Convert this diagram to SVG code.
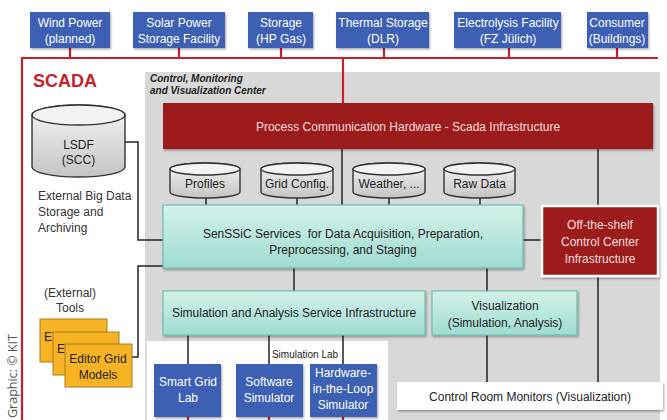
<svg xmlns="http://www.w3.org/2000/svg" width="667" height="420" viewBox="0 0 667 420">
<defs>
<linearGradient id="teal" x1="0" y1="0" x2="0" y2="1"><stop offset="0" stop-color="#d3f1ea"/><stop offset="1" stop-color="#9edbd0"/></linearGradient>
<linearGradient id="cyl" x1="0" y1="0" x2="0" y2="1"><stop offset="0" stop-color="#f4f4f4"/><stop offset="1" stop-color="#c4c4c4"/></linearGradient>
<filter id="sh" x="-10%" y="-10%" width="130%" height="140%"><feDropShadow dx="1" dy="1.5" stdDeviation="1.2" flood-color="#000" flood-opacity="0.35"/></filter>
<style>
text{font-family:"Liberation Sans",Arial,sans-serif;font-size:12px;}
.blue rect{fill:#3d5fb4;filter:url(#sh);}
.blue text{fill:#ffffff;text-anchor:middle;}
.teal rect{fill:url(#teal);stroke:#6cbfb0;stroke-width:1.2;filter:url(#sh);}
.teal text,.cyln text{fill:#222;text-anchor:middle;}
.dred rect{fill:#9c1b1f;filter:url(#sh);}
.dred text{fill:#f6dede;text-anchor:middle;}
.cyln path{fill:url(#cyl);stroke:#333;stroke-width:1.4;}
.cyln ellipse{fill:#f2f2f2;stroke:#333;stroke-width:1.4;}
.org rect{fill:#f6b324;stroke:#a77c1c;stroke-width:1;}
.org text{fill:#222;text-anchor:middle;}
.red{stroke:#c8202a;stroke-width:2.2;fill:none;}
.blk{stroke:#222;stroke-width:1.5;fill:none;}
.plain{fill:#333;}
</style>
</defs>

<!-- background panels -->
<rect x="145" y="72" width="515" height="348" fill="#d8d8d8"/>
<rect x="147" y="341" width="241" height="79" fill="#ffffff"/>

<g id="connectors">
  <path class="red" d="M22 420 V58 H658"/>
  <path class="red" d="M70 48 V58 M179 48 V58 M281 48 V58 M384 48 V58 M509 48 V58 M617 48 V58"/>
  <path class="red" d="M343 58 V104"/>
  <path class="red" d="M188 417 V420 M269 417 V420 M343 417 V420"/>
  <path class="blk" d="M342 149 V205"/>
  <path class="blk" d="M598 149 V206"/>
  <path class="blk" d="M598 276 V382"/>
  <path class="blk" d="M206 198 V205 M297 198 V205 M389 198 V205 M480 198 V205"/>
  <path class="blk" d="M125 142 H138 V240 H163"/>
  <path class="blk" d="M132 357 H138 V266 H163"/>
  <path class="blk" d="M523 240 H542"/>
  <path class="blk" d="M294 268 V291"/>
  <path class="blk" d="M487 268 V291"/>
  <path class="blk" d="M487 335 V382"/>
  <path class="blk" d="M188 335 V364 M269 335 V364 M343 335 V364"/>
</g>

<g id="wind" class="blue"><rect x="30" y="12" width="80" height="36"/><text x="70" y="27">Wind Power</text><text x="70" y="43">(planned)</text></g>
<g id="solar" class="blue"><rect x="133" y="12" width="92" height="36"/><text x="179" y="27">Solar Power</text><text x="179" y="43">Storage Facility</text></g>
<g id="storage" class="blue"><rect x="248" y="12" width="65" height="36"/><text x="281" y="27">Storage</text><text x="281" y="43">(HP Gas)</text></g>
<g id="thermal" class="blue"><rect x="336" y="12" width="93" height="36"/><text x="383" y="27">Thermal Storage</text><text x="383" y="43">(DLR)</text></g>
<g id="electrolysis" class="blue"><rect x="454" y="12" width="107" height="36"/><text x="508" y="27">Electrolysis Facility</text><text x="508" y="43">(FZ Jülich)</text></g>
<g id="consumer" class="blue"><rect x="587" y="12" width="61" height="36"/><text x="617" y="27">Consumer</text><text x="617" y="43">(Buildings)</text></g>

<g id="scada"><text x="33" y="87" fill="#c8202a" style="font-size:18px;font-weight:bold;">SCADA</text></g>
<g id="center-label"><text x="150" y="82" fill="#222" style="font-size:10px;font-weight:bold;font-style:italic;">Control, Monitoring</text><text x="150" y="94" fill="#222" style="font-size:10px;font-weight:bold;font-style:italic;">and Visualization Center</text></g>

<g id="pch" class="dred"><rect x="163" y="103" width="490" height="46"/><text x="408" y="131">Process Communication Hardware - Scada Infrastructure</text></g>

<g id="profiles" class="cyln"><path d="M170 169 A35 6 0 0 1 240 169 V192 A35 6 0 0 1 170 192 Z"/><ellipse cx="205" cy="169" rx="35" ry="6"/><text x="205" y="188">Profiles</text></g>
<g id="gridconfig" class="cyln"><path d="M261 169 A36 6 0 0 1 333 169 V192 A36 6 0 0 1 261 192 Z"/><ellipse cx="297" cy="169" rx="36" ry="6"/><text x="297" y="188">Grid Config.</text></g>
<g id="weather" class="cyln"><path d="M353 169 A36 6 0 0 1 425 169 V192 A36 6 0 0 1 353 192 Z"/><ellipse cx="389" cy="169" rx="36" ry="6"/><text x="389" y="188">Weather, ...</text></g>
<g id="rawdata" class="cyln"><path d="M444 169 A35.5 6 0 0 1 515 169 V192 A35.5 6 0 0 1 444 192 Z"/><ellipse cx="479.5" cy="169" rx="35.5" ry="6"/><text x="479.5" y="188">Raw Data</text></g>

<g id="lsdf" class="cyln"><path d="M32 115 A46.5 10 0 0 1 125 115 V167 A46.5 10 0 0 1 32 167 Z"/><ellipse cx="78.5" cy="115" rx="46.5" ry="10"/><text x="78.5" y="149">LSDF</text><text x="78.5" y="164">(SCC)</text></g>
<g id="lsdf-label"><text class="plain" x="38" y="200">External Big Data</text><text class="plain" x="38" y="216">Storage and</text><text class="plain" x="38" y="232">Archiving</text></g>

<g id="senssic" class="teal"><rect x="163" y="205" width="360" height="63"/><text x="343" y="238">SenSSiC Services&#160; for Data Acquisition, Preparation,</text><text x="343" y="254">Preprocessing, and Staging</text></g>

<g id="offshelf" class="dred"><rect x="542" y="206" width="116" height="70" stroke="#ffffff" stroke-width="2.5"/><text x="600" y="229">Off-the-shelf</text><text x="600" y="246">Control Center</text><text x="600" y="263">Infrastructure</text></g>

<g id="simulation" class="teal"><rect x="163" y="291" width="262" height="44"/><text x="294" y="317">Simulation and Analysis Service Infrastructure</text></g>
<g id="visualization" class="teal"><rect x="432" y="291" width="145" height="44"/><text x="505" y="310">Visualization</text><text x="505" y="327">(Simulation, Analysis)</text></g>

<g id="monitors"><rect x="397" y="382" width="266" height="28" fill="#ffffff" filter="url(#sh)"/><text x="530" y="401" fill="#222" text-anchor="middle">Control Room Monitors (Visualization)</text></g>

<g id="tools-label"><text class="plain" x="70" y="297" text-anchor="middle">(External)</text><text class="plain" x="70" y="312" text-anchor="middle">Tools</text></g>
<g id="editors" class="org">
  <rect x="40" y="319" width="67" height="43"/><text x="48" y="341">E</text>
  <rect x="53" y="332" width="66" height="43"/><text x="61" y="353">E</text>
  <rect x="65" y="344" width="67" height="43"/><text x="98" y="363">Editor Grid</text><text x="98" y="379">Models</text>
</g>

<g id="simlab-label"><text x="305" y="358" fill="#222" text-anchor="middle" style="font-size:10px;">Simulation Lab</text></g>
<g id="smartgrid" class="blue"><rect x="154" y="364" width="67" height="53"/><text x="188" y="386">Smart Grid</text><text x="188" y="402">Lab</text></g>
<g id="software" class="blue"><rect x="236" y="364" width="67" height="53"/><text x="269" y="386">Software</text><text x="269" y="402">Simulator</text></g>
<g id="hil" class="blue"><rect x="310" y="364" width="67" height="53"/><text x="343" y="377">Hardware-</text><text x="343" y="393">in-the-Loop</text><text x="343" y="409">Simulator</text></g>

<g id="credit"><text transform="translate(17 418) rotate(-90)" text-anchor="start" fill="#555" style="font-size:12.5px;font-family:'Open Sans','DejaVu Sans',sans-serif;">Graphic: © KIT</text></g>
</svg>
